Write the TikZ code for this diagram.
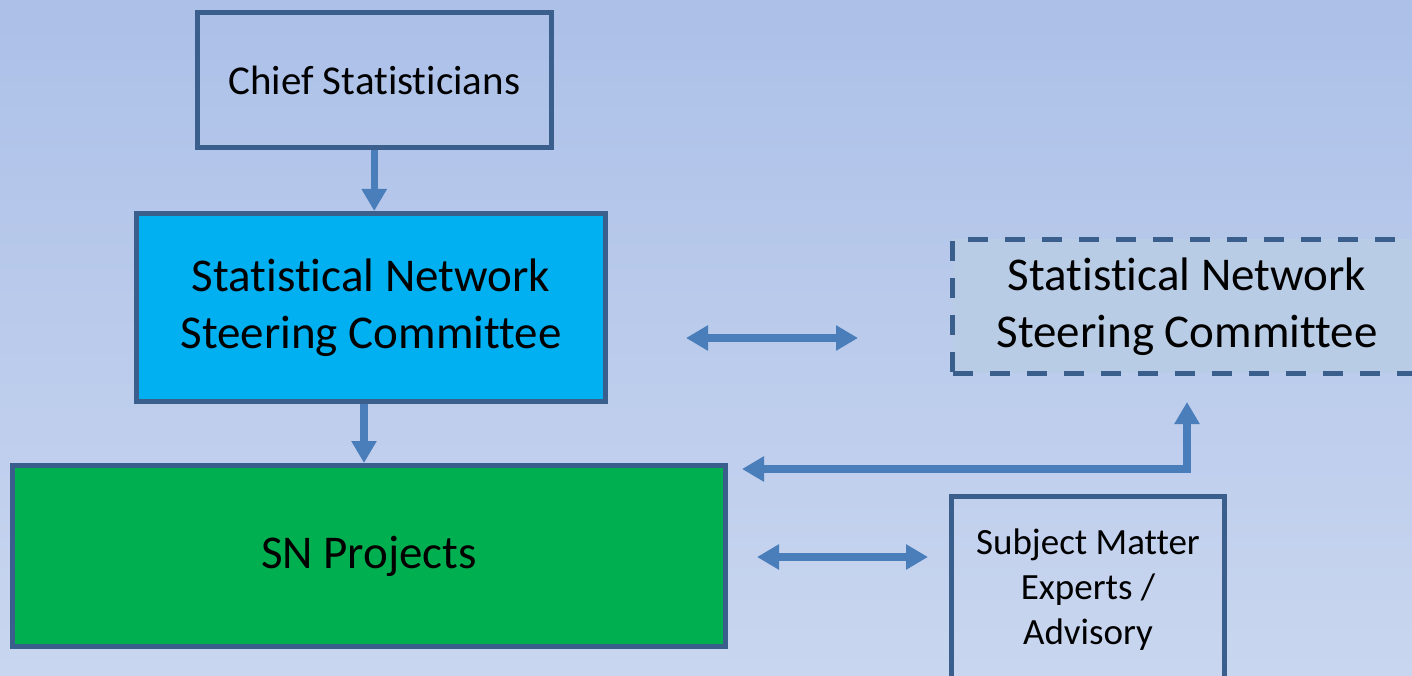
\documentclass[tikz,border=0pt]{standalone}
\usepackage{fontspec}
\setmainfont{Carlito}[Ligatures=NoCommon,RawFeature={-liga;-clig;-calt;-dlig}]
\usepackage{tikz}
\usetikzlibrary{arrows.meta,positioning}
\definecolor{bgtop}{HTML}{ACC0E8}
\definecolor{bgbot}{HTML}{C9D6EF}
\definecolor{boxline}{HTML}{3A5F8D}
\definecolor{arrowblue}{HTML}{4A7EBB}
\definecolor{snblue}{HTML}{00B0F0}
\definecolor{sngreen}{HTML}{00B050}
\definecolor{extfill}{HTML}{B9CCE5}

\begin{document}
\begin{tikzpicture}[
x=1pt, y=-1pt,
box/.style={draw=boxline, line width=5pt, inner sep=0pt, align=center},
bigtext/.style={font=\fontsize{47pt}{57pt}\selectfont},
flow/.style={draw=arrowblue, line width=7.5pt, -{Triangle[width=24pt,length=22pt]}},
twoway/.style={draw=arrowblue, line width=7.5pt, {Triangle[width=24pt,length=22pt]}-{Triangle[width=24pt,length=22pt]}}
]
    % Background
    \useasboundingbox (0,0) rectangle (1412,676);
    \clip (0,0) rectangle (1412,676);
    \fill[top color=bgtop, bottom color=bgbot] (0,0) rectangle (1412,676);

    % Boxes
    \node[box, minimum width=353.5pt, minimum height=135.5pt,
      font=\fontsize{41pt}{50pt}\selectfont] (chief) at (374.25,80.25) {Chief Statisticians};
    \node[box, bigtext, fill=snblue, minimum width=469pt, minimum height=188pt]
      (snsc) at (371,307.5) {Statistical Network\\Steering Committee};
    \node[box, bigtext, fill=sngreen, minimum width=713pt, minimum height=181pt]
      (projects) at (369,556) {SN Projects};
    \node[box, bigtext, fill=extfill, dash pattern=on 20pt off 17pt,
      minimum width=469pt, minimum height=133.5pt]
      (snscext) at (1187,306.25) {Statistical Network\\Steering Committee};
    \node[box, minimum width=273pt, minimum height=187pt,
      font=\fontsize{37pt}{45pt}\selectfont] (experts) at (1088,590)
      {Subject Matter\\Experts /\\Advisory};

    % Arrows
    \coordinate (linkleft) at (686,338);
    \coordinate (linkright) at (858,338);
    \coordinate (advleft) at (757,557);
    \coordinate (advright) at (928,557);
    \coordinate (elbowend) at (742,469);

    \draw[flow] (chief.south) -- (chief.south |- snsc.north);
    \draw[flow] ([xshift=-7pt]snsc.south) -- ([xshift=-7pt]snsc.south |- projects.north);
    \draw[twoway] (linkleft) -- (linkright);
    \draw[twoway] ([yshift=-26.5pt]snscext.south) |- (elbowend);
    \draw[twoway] (advleft) -- (advright);
\end{tikzpicture}
\end{document}
